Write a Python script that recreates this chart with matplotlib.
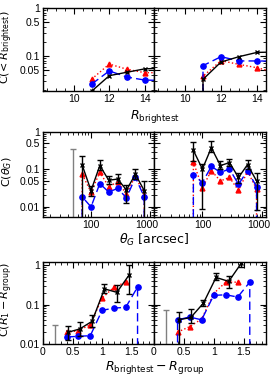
import numpy as np
import matplotlib.pyplot as plt
import matplotlib.transforms as mtransforms
from matplotlib.ticker import FixedLocator, LogLocator, MultipleLocator, FuncFormatter, NullFormatter

plt.rcParams['mathtext.fontset'] = 'dejavusans'
plt.rcParams['font.family'] = ['Liberation Sans Narrow', 'Liberation Sans', 'DejaVu Sans']
plt.rcParams['font.size'] = 7

# --- Rangee du haut : magnitude de la plus brillante
mag_g = [11, 12, 13, 14, 15]
rouge_hg = [0.033, 0.068, 0.053, 0.045, 0.045]
bleu_hg = [0.026, 0.049, 0.0365, 0.0316, 0.031]
noir_hg = [0.0185, 0.039, 0.046, 0.054, 0.056]

mag_d = [10, 11, 12, 13, 14, 15]
rouge_hd = [0, 0.038, 0.080, 0.067, 0.057, 0.046]
bleu_hd = [0, 0.063, 0.097, 0.079, 0.079, 0.078]
noir_hd = [0, 0.0327, 0.075, 0.097, 0.119, 0.121]

# --- Rangee du milieu : separation theta_G
theta = [50, 70.7, 100, 141, 200, 283, 400, 566, 800, 1131]
theta_noir = [70.7, 100, 141, 200, 283, 400, 566, 800]
rouge_mg = [0, 0.074, 0.0246, 0.083, 0.0345, 0.046, 0.022, 0.066, 0.021, 0]
bleu_mg = [0, 0.0184, 0.0099, 0.0416, 0.0246, 0.031, 0.0172, 0.061, 0.0184, 0]
noir_mg = [0.131, 0.027, 0.126, 0.051, 0.055, 0.028, 0.074, 0.027]
noir_mg_haut = [0.23, 0.036, 0.18, 0.065, 0.073, 0.038, 0.102, 0.049]
noir_mg_bas = [0.003, 0.019, 0.095, 0.040, 0.042, 0.0126, 0.055, 0.003]
gris_theta = [50]
gris_mg_haut = [0.34]

rouge_md = [0, 0.155, 0.0324, 0.092, 0.049, 0.0606, 0.0273, 0.088, 0.030, 0]
bleu_md = [0, 0.072, 0.0443, 0.12, 0.083, 0.102, 0.0398, 0.092, 0.0344, 0]
noir_md = [0.323, 0.102, 0.38, 0.126, 0.152, 0.0606, 0.134, 0.049]
noir_md_haut = [0.55, 0.14, 0.58, 0.17, 0.19, 0.079, 0.18, 0.079]
noir_md_bas = [0.17, 0.0088, 0.29, 0.10, 0.125, 0.044, 0.10, 0.008]

# --- Rangee du bas : ecart de magnitude
dmag = [0.2, 0.4, 0.6, 0.8, 1.0, 1.2, 1.4, 1.6, 1.8]
dmag_rouge = [0.4, 0.6, 0.8, 1.0, 1.2, 1.4]
dmag_noir = [0.42, 0.62, 0.83, 1.04, 1.25, 1.46]
rouge_bg = [0.0198, 0.0217, 0.031, 0.146, 0.275, 0.37]
bleu_bg = [np.nan, 0.015, 0.0157, 0.0162, 0.0713, 0.0814, 0.085, 0.277, 0]
noir_bg = [0.0198, 0.024, 0.0376, 0.25, 0.204, 0.57]
noir_bg_haut = [0.029, 0.0354, 0.053, 0.33, 0.32, 1.0]
noir_bg_bas = [0.0128, 0.0157, 0.027, 0.195, 0.114, 0.185]
gris_dmag = [0.21]
gris_bg_haut = [0.031]

rouge_bd = [0.020, 0.0275, 0.043, 0.19, 0.37, 0.37]
bleu_bd = [0, 0.041, 0.0483, 0.041, 0.171, 0.177, 0.155, 0.37, 0]
noir_bd = [0.041, 0.047, 0.109, 0.488, 0.386, 1.12]
noir_bd_haut = [0.064, 0.077, 0.13, 0.63, 0.52, 1.4]
noir_bd_bas = [0.005, 0.034, 0.09, 0.41, 0.26, 0.9]
gris_bd_haut = [0.072]


def fmt_g(v, pos):
    return '%g' % v


def style_axe(ax, yticks, montrer_y):
    ax.set_yscale('log', nonpositive='clip')
    ax.yaxis.set_major_locator(FixedLocator(yticks))
    ax.yaxis.set_minor_locator(LogLocator(subs=np.arange(2, 10)))
    if montrer_y:
        ax.yaxis.set_major_formatter(FuncFormatter(fmt_g))
    else:
        ax.yaxis.set_major_formatter(NullFormatter())
    ax.yaxis.set_minor_formatter(NullFormatter())
    ax.tick_params(which='both', direction='in', top=True, right=True, labelsize=7.5, pad=2)
    ax.tick_params(which='major', length=4, width=0.8)
    ax.tick_params(which='minor', length=2, width=0.6)
    for s in ax.spines.values():
        s.set_linewidth(1.0)


def courbes(ax, x, rouge, bleu, noir, x_rouge=None, x_noir=None):
    if x_rouge is None:
        x_rouge = x
    if x_noir is None:
        x_noir = x
    ax.plot(x_rouge, rouge, color='red', ls=':', lw=1, marker='^', ms=3.5)
    ax.plot(x, bleu, color='blue', ls=(0, (6, 3)), lw=1, marker='o', ms=3.8)
    ax.plot(x_noir, noir, color='black', ls='-', lw=1, marker='x', ms=3.5, mew=1)


def barres(ax, x, val, bas, haut):
    val = np.array(val)
    err = [val - np.array(bas), np.array(haut) - val]
    ax.errorbar(x, val, yerr=err, fmt='none', ecolor='black', elinewidth=1, capsize=2.2, capthick=1)


fig = plt.figure(figsize=(2.72, 3.79), dpi=100)
W, H = 272., 379.
x0, xm, x1 = 43 / W, 153.5 / W, 266 / W
rangees = [(8, 91), (132, 217), (262, 344)]
axes = []
for (yt, yb) in rangees:
    ligne = []
    for (a, b) in [(x0, xm), (xm, x1)]:
        ligne.append(fig.add_axes([a, 1 - yb / H, b - a, (yb - yt) / H]))
    axes.append(ligne)

# Rangee du haut
ax = axes[0][0]
courbes(ax, mag_g, rouge_hg, bleu_hg, noir_hg)
ax = axes[0][1]
courbes(ax, mag_d, rouge_hd, bleu_hd, noir_hd)
for i, ax in enumerate(axes[0]):
    style_axe(ax, [0.05, 0.1, 0.5, 1], i == 0)
    ax.set_xlim(8.25, 14.5)
    ax.set_ylim(0.0187, 1)
    ax.xaxis.set_major_locator(MultipleLocator(2))
    ax.xaxis.set_minor_locator(MultipleLocator(0.5))

# Rangee du milieu
ax = axes[1][0]
courbes(ax, theta, rouge_mg, bleu_mg, noir_mg, x_noir=theta_noir)
barres(ax, theta_noir, noir_mg, noir_mg_bas, noir_mg_haut)
ax.errorbar(gris_theta, [0], yerr=[[0], gris_mg_haut], fmt='none', ecolor='grey', elinewidth=1, capsize=2.2)
ax = axes[1][1]
courbes(ax, theta, rouge_md, bleu_md, noir_md, x_noir=theta_noir)
barres(ax, theta_noir, noir_md, noir_md_bas, noir_md_haut)
decalage = mtransforms.ScaledTranslation(-0.035, 0, fig.dpi_scale_trans)
for i, ax in enumerate(axes[1]):
    style_axe(ax, [0.01, 0.05, 0.1, 0.5, 1], i == 0)
    ax.set_xscale('log')
    ax.set_xlim(15.3, 1150)
    ax.set_ylim(0.0053, 1)
    ax.xaxis.set_major_locator(FixedLocator([100, 1000]))
    ax.xaxis.set_major_formatter(FuncFormatter(fmt_g))
    ax.xaxis.set_minor_locator(LogLocator(subs=np.arange(2, 10)))
    ax.xaxis.set_minor_formatter(NullFormatter())
    # le label 1000 est un peu decale vers la gauche, comme sur l'original
    etiquette = ax.xaxis.get_major_ticks()[1].label1
    etiquette.set_transform(etiquette.get_transform() + decalage)

# Rangee du bas
ax = axes[2][0]
courbes(ax, dmag, rouge_bg, bleu_bg, noir_bg, x_rouge=dmag_rouge, x_noir=dmag_noir)
barres(ax, dmag_noir, noir_bg, noir_bg_bas, noir_bg_haut)
ax.errorbar(gris_dmag, [0], yerr=[[0], gris_bg_haut], fmt='none', ecolor='grey', elinewidth=1, capsize=2.2)
ax = axes[2][1]
courbes(ax, dmag, rouge_bd, bleu_bd, noir_bd, x_rouge=dmag_rouge, x_noir=dmag_noir)
barres(ax, dmag_noir, noir_bd, noir_bd_bas, noir_bd_haut)
ax.errorbar(gris_dmag, [0], yerr=[[0], gris_bd_haut], fmt='none', ecolor='grey', elinewidth=1, capsize=2.2)
for i, ax in enumerate(axes[2]):
    style_axe(ax, [0.01, 0.1, 1], i == 0)
    ax.set_xlim(0, 1.87)
    ax.set_ylim(0.01, 1.2)
    ax.xaxis.set_major_locator(FixedLocator([0, 0.5, 1, 1.5]))
    ax.xaxis.set_major_formatter(FuncFormatter(fmt_g))
    ax.xaxis.set_minor_locator(MultipleLocator(0.1))

# Titres des axes
xc = (x0 + x1) / 2
lab = dict(ha='center', va='center', family='DejaVu Sans')
fig.text(xc, 1 - 117 / H, r'$R_{\rm brightest}$', fontsize=9, **lab)
fig.text(xc, 1 - 240 / H, r'$\theta_G$ [arcsec]', fontsize=9, **lab)
fig.text(xc, 1 - 367 / H, r'$R_{\rm brightest} - R_{\rm group}$', fontsize=9, **lab)
fig.text(7 / W, 1 - 47 / H, r'C(< $R_{\rm brightest}$)', rotation=90, fontsize=8, **lab)
fig.text(7 / W, 1 - 172 / H, r'C($\theta_G$)', rotation=90, fontsize=8, **lab)
fig.text(7 / W, 1 - 299 / H, r'C($R_1 - R_{\rm group}$)', rotation=90, fontsize=8, **lab)

fig.savefig('out.png', dpi=100)
